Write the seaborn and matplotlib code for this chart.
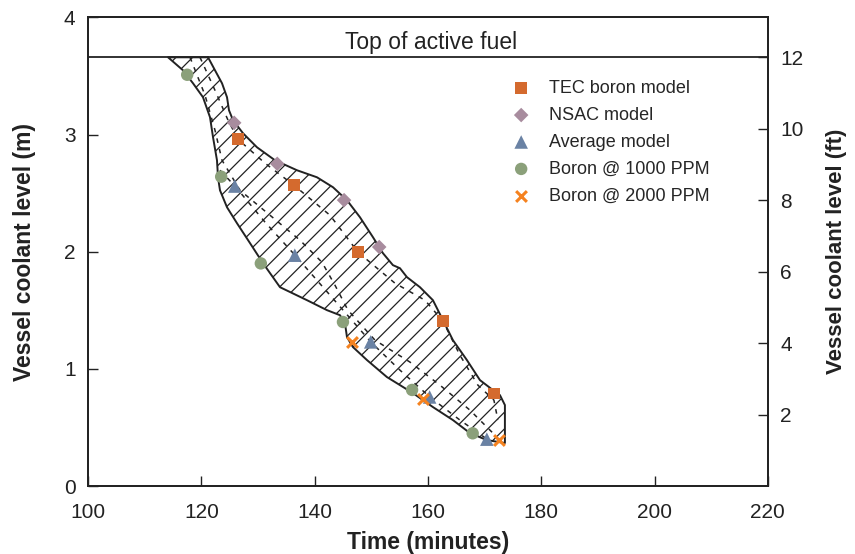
import numpy as np
import pandas as pd
import matplotlib
matplotlib.use("Agg")
import matplotlib.pyplot as plt
import seaborn as sns

sns.set_style("ticks")
plt.rcParams['font.family'] = ['Liberation Sans', 'DejaVu Sans']
plt.rcParams['hatch.linewidth'] = 0.9

# ---- data (time in minutes, level in m) ----
tec_x = [126.5, 136.4, 147.6, 162.6, 171.6]
tec_y = [2.96, 2.57, 2.00, 1.41, 0.79]
nsac_x = [125.8, 133.4, 145.2, 151.4]
nsac_y = [3.10, 2.75, 2.44, 2.04]
avg_x = [125.9, 136.5, 149.9, 160.3, 170.4]
avg_y = [2.56, 1.97, 1.23, 0.76, 0.40]
b1000_x = [117.5, 123.5, 130.5, 145.0, 157.2, 167.9]
b1000_y = [3.51, 2.64, 1.90, 1.40, 0.82, 0.45]
b2000_x = [146.6, 159.1, 172.5]
b2000_y = [1.23, 0.74, 0.39]

# envelope upper (right) edge
up_x = [121.18, 122.41, 123.65, 124.53, 124.88, 125.59, 127.35, 129.82, 133.0, 136.88,
        140.41, 143.24, 145.71, 148.0, 150.29, 152.06, 153.82, 155.06, 156.29, 158.59,
        160.88, 162.65, 164.41, 166.88, 169.18, 171.47, 172.71, 173.59, 173.59]
up_y = [3.659, 3.548, 3.437, 3.318, 3.207, 3.122, 3.011, 2.891, 2.780, 2.695,
        2.635, 2.550, 2.439, 2.294, 2.124, 1.987, 1.885, 1.859, 1.783, 1.697,
        1.586, 1.416, 1.245, 1.075, 0.904, 0.819, 0.776, 0.691, 0.367]
# envelope lower (left) edge
lo_x = [114.12, 116.76, 118.53, 120.29, 121.53, 122.06, 122.76, 122.94, 123.29, 124.53,
        126.29, 128.59, 130.88, 133.88, 138.65, 142.18, 144.47, 145.35, 145.71, 146.76,
        149.24, 152.76, 157.35, 160.88, 164.41, 167.41, 170.41, 173.59]
lo_y = [3.659, 3.548, 3.437, 3.318, 3.147, 2.977, 2.780, 2.635, 2.524, 2.379,
        2.243, 2.073, 1.902, 1.697, 1.586, 1.501, 1.458, 1.390, 1.271, 1.186,
        1.075, 0.930, 0.793, 0.674, 0.563, 0.452, 0.392, 0.367]

# dashed model curves inside the envelope
ca_x = [119.76, 122.41, 124.71, 126.47, 131.24, 136.35, 142.71, 147.65, 154.18, 159.47,
        162.65, 165.65, 168.82, 171.65, 172.35]
ca_y = [3.659, 3.377, 3.122, 2.959, 2.755, 2.567, 2.311, 1.996, 1.731, 1.586,
        1.407, 1.117, 0.861, 0.733, 0.563]
cb_x = [118.0, 120.65, 122.41, 123.65, 126.82, 132.12, 137.41, 141.29, 143.59, 145.88,
        150.65, 156.82, 162.12, 167.41, 171.82]
cb_y = [3.659, 3.335, 3.036, 2.780, 2.524, 2.311, 2.098, 1.910, 1.714, 1.501,
        1.245, 1.058, 0.861, 0.648, 0.435]
cc_x = [123.29, 125.94, 131.24, 136.53, 142.71, 149.94, 155.06, 160.35, 165.65, 170.41]
cc_y = [2.695, 2.559, 2.252, 1.970, 1.629, 1.228, 0.989, 0.759, 0.563, 0.401]

labels = ["TEC boron model", "NSAC model", "Average model", "Boron @ 1000 PPM", "Boron @ 2000 PPM"]
colors = ["#D46A2E", "#A88C9E", "#6A82A4", "#8BA07A", "#F5821F"]
markers = ["s", "D", "^", "o", "x"]
msizes = [72, 55, 95, 80, 60]
fuel_top_ft = 12.0
fuel_label = "Top of active fuel"

series_x = [tec_x, nsac_x, avg_x, b1000_x, b2000_x]
series_y = [tec_y, nsac_y, avg_y, b1000_y, b2000_y]

fig = plt.figure(figsize=(8.55, 5.54), dpi=100)
ax = fig.add_axes([0.103, 0.1227, 0.795, 0.846])

# envelope
poly_x = up_x + lo_x[::-1]
poly_y = up_y + lo_y[::-1]
ax.fill(poly_x, poly_y, facecolor="white", edgecolor="#222222", hatch="//", linewidth=0, zorder=1)
ax.plot(poly_x + [poly_x[0]], poly_y + [poly_y[0]], color="#222222", lw=1.4, zorder=2)

for cx, cy in [(ca_x, ca_y), (cb_x, cb_y), (cc_x, cc_y)]:
    ax.plot(cx, cy, color="#222222", lw=1.1, linestyle=(0, (3, 4)), zorder=2)

fuel_m = fuel_top_ft * 0.3048
ax.axhline(fuel_m, color="#222222", lw=1.3, zorder=2)
ax.text(160.5, fuel_m + 0.03, fuel_label, ha="center", va="bottom", fontsize=16.5, color="#222222")

for xs, ys, lab, col, mk, sz in zip(series_x, series_y, labels, colors, markers, msizes):
    df = pd.DataFrame({"t": xs, "lvl": ys})
    if mk == "x":
        sns.scatterplot(data=df, x="t", y="lvl", color=col, marker=mk, s=sz,
                        linewidth=2.2, label=lab, ax=ax, zorder=3)
    else:
        sns.scatterplot(data=df, x="t", y="lvl", color=col, marker=mk, s=sz,
                        edgecolor="none", linewidth=0, label=lab, ax=ax, zorder=3)

ax.set_xlim(100, 220)
ax.set_ylim(0, 4)
ax.set_xticks([100, 120, 140, 160, 180, 200, 220])
ax.set_yticks([0, 1, 2, 3, 4])
ax.tick_params(direction="in", length=7, width=1, labelsize=15, colors="#222222", pad=9)
ax.tick_params(axis="x", pad=12)
ax.set_xlabel("Time (minutes)", fontsize=16.5, fontweight="bold", color="#222222", labelpad=7)
ax.set_ylabel("Vessel coolant level (m)", fontsize=16.5, fontweight="bold", color="#222222", labelpad=20)
for sp in ax.spines.values():
    sp.set_linewidth(1.3)
    sp.set_color("#222222")

ax2 = ax.twinx()
ax2.set_ylim(0, 4 / 0.3048)
ax2.set_yticks([2, 4, 6, 8, 10, 12])
ax2.tick_params(direction="in", length=7, width=1, labelsize=15, colors="#222222", pad=9)
ax2.set_ylabel("Vessel coolant level (ft)", fontsize=16, fontweight="bold", color="#222222", labelpad=16)
for sp in ax2.spines.values():
    sp.set_linewidth(1.3)
    sp.set_color("#222222")

ax.legend(loc="upper left", bbox_to_anchor=(0.6, 0.882), frameon=False,
          fontsize=13, labelspacing=0.55, handletextpad=0.55, borderaxespad=0)

fig.savefig("out.png", dpi=100)
